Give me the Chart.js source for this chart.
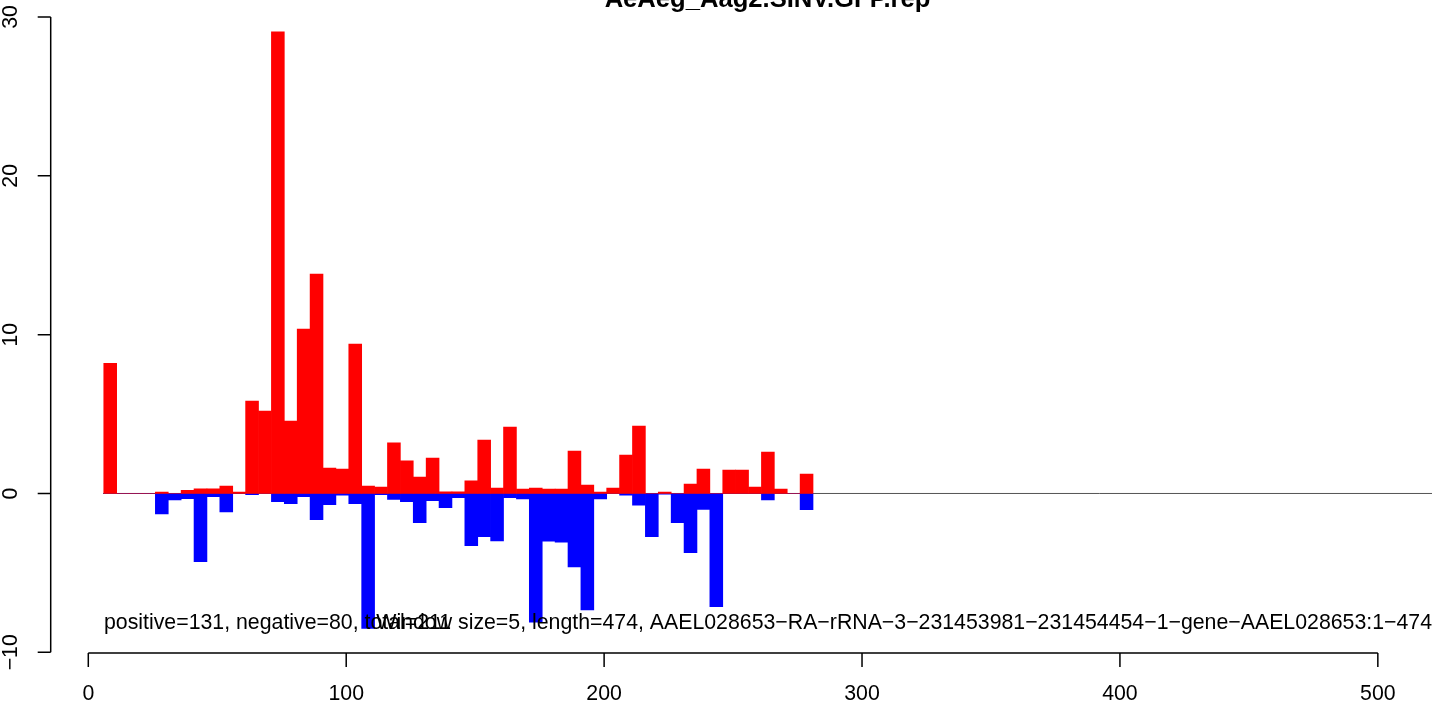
<!DOCTYPE html>
<html>
<head>
<meta charset="utf-8">
<script src="https://cdn.jsdelivr.net/npm/chart.js@4"></script>
<style>
  html, body { margin: 0; padding: 0; background: #ffffff; }
  #wrap { width: 1444px; height: 704px; position: relative; }
</style>
</head>
<body>
<div id="wrap"><canvas id="c" width="1444" height="704"></canvas></div>
<script>
// ---- data ----
const chartTitle = "AeAeg_Aag2.SINV.GFP.rep";
const binStart = [6, 11, 16, 21, 26, 31, 36, 41, 46, 51, 56, 61, 66, 71, 76, 81, 86, 91, 96, 101,
  106, 111, 116, 121, 126, 131, 136, 141, 146, 151, 156, 161, 166, 171, 176, 181, 186, 191, 196, 201,
  206, 211, 216, 221, 226, 231, 236, 241, 246, 251, 256, 261, 266, 271, 276];
const positiveValues = [8.2, 0, 0, 0, 0.09, 0, 0.2, 0.3, 0.3, 0.47, 0.08, 5.82, 5.19, 29.06, 4.56, 10.35, 13.82, 1.6, 1.54, 9.41,
  0.46, 0.4, 3.19, 2.06, 1.03, 2.23, 0.1, 0.1, 0.79, 3.36, 0.34, 4.18, 0.28, 0.34, 0.28, 0.28, 2.67, 0.53, 0.09, 0.34,
  2.42, 4.24, 0, 0.09, 0, 0.59, 1.54, 0, 1.48, 1.48, 0.4, 2.61, 0.28, 0, 1.22];
const negativeValues = [0, 0, 0, 0, -1.28, -0.4, -0.33, -4.3, -0.2, -1.16, 0, -0.08, 0, -0.52, -0.64, -0.2, -1.65, -0.71, -0.1, -0.64,
  -8.5, -0.08, -0.38, -0.52, -1.84, -0.46, -0.9, -0.26, -3.28, -2.72, -2.98, -0.26, -0.34, -8.1, -3.0, -3.06, -4.62, -7.33, -0.34, 0,
  -0.1, -0.73, -2.72, -0.05, -1.84, -3.73, -1.01, -7.13, 0, 0, 0, -0.4, 0, 0, -1.02];
const windowSize = 5;
const xTicks = [0, 100, 200, 300, 400, 500];
const yTicks = [-10, 0, 10, 20, 30];
const yTickLabels = ["\u221210", "0", "10", "20", "30"];
const noteLeft = "positive=131, negative=80, total=211";
const noteRight = "Window size=5, length=474, AAEL028653\u2212RA\u2212rRNA\u22123\u2212231453981\u2212231454454\u22121\u2212gene\u2212AAEL028653:1\u2212474";

const FONT = '"Liberation Sans", Arial, Helvetica, sans-serif';

function toPoints(vals) {
  return binStart.map((s, i) => ({ x: s + windowSize / 2, y: vals[i] }));
}

const rAxesPlugin = {
  id: 'rAxes',
  beforeDatasetsDraw(chart) {
    const { ctx, chartArea, scales } = chart;
    const y0 = scales.y.getPixelForValue(0);
    ctx.save();
    ctx.strokeStyle = '#555555';
    ctx.lineWidth = 1;
    ctx.beginPath();
    ctx.moveTo(chartArea.left, y0);
    ctx.lineTo(chartArea.right, y0);
    ctx.stroke();
    ctx.restore();
  },
  afterDraw(chart) {
    const { ctx, chartArea, scales } = chart;
    const xs = scales.x, ys = scales.y;
    ctx.save();
    ctx.strokeStyle = '#000';
    ctx.fillStyle = '#000';
    ctx.lineWidth = 1.5;
    // y axis (R style, detached)
    const yAxisX = 50.7;
    const yTop = ys.getPixelForValue(yTicks[yTicks.length - 1]);
    const yBot = ys.getPixelForValue(yTicks[0]);
    ctx.beginPath();
    ctx.moveTo(yAxisX, yTop);
    ctx.lineTo(yAxisX, yBot);
    yTicks.forEach(v => {
      const p = ys.getPixelForValue(v);
      ctx.moveTo(yAxisX, p);
      ctx.lineTo(yAxisX - 13, p);
    });
    ctx.stroke();
    ctx.font = '21.3px ' + FONT;
    ctx.textAlign = 'center';
    ctx.textBaseline = 'alphabetic';
    yTicks.forEach((v, i) => {
      const p = ys.getPixelForValue(v);
      ctx.save();
      ctx.translate(17, p);
      ctx.rotate(-Math.PI / 2);
      ctx.fillText(yTickLabels[i], 0, 0);
      ctx.restore();
    });
    // x axis
    const xAxisY = 653;
    const xL = xs.getPixelForValue(xTicks[0]);
    const xR = xs.getPixelForValue(xTicks[xTicks.length - 1]);
    ctx.beginPath();
    ctx.moveTo(xL, xAxisY);
    ctx.lineTo(xR, xAxisY);
    xTicks.forEach(v => {
      const p = xs.getPixelForValue(v);
      ctx.moveTo(p, xAxisY);
      ctx.lineTo(p, xAxisY + 14);
    });
    ctx.stroke();
    xTicks.forEach(v => {
      ctx.fillText(String(v), xs.getPixelForValue(v), 700);
    });
    // notes
    ctx.textAlign = 'left';
    ctx.fillText(noteLeft, chartArea.left + 1, 629);
    ctx.textAlign = 'right';
    ctx.fillText(noteRight, chartArea.right, 629);
    // title
    ctx.font = 'bold 25.6px ' + FONT;
    ctx.textAlign = 'center';
    ctx.fillText(chartTitle, (chartArea.left + chartArea.right) / 2, 7);
    ctx.restore();
  }
};

new Chart(document.getElementById('c'), {
  type: 'bar',
  data: {
    datasets: [
      { label: 'positive', data: toPoints(positiveValues), backgroundColor: '#ff0000', borderWidth: 0 },
      { label: 'negative', data: toPoints(negativeValues), backgroundColor: '#0000ff', borderWidth: 0 }
    ]
  },
  options: {
    responsive: false,
    animation: false,
    devicePixelRatio: 1,
    layout: { padding: { left: 103, right: 12, top: 17, bottom: 51.7 } },
    datasets: { bar: { grouped: false, barPercentage: 1, categoryPercentage: 1 } },
    scales: {
      x: { type: 'linear', display: false, offset: false, min: 5.7, max: 521, grid: { offset: false } },
      y: { type: 'linear', display: false, min: -10, max: 30 }
    },
    plugins: { legend: { display: false }, tooltip: { enabled: false }, title: { display: false } }
  },
  plugins: [rAxesPlugin]
});
</script>
</body>
</html>
